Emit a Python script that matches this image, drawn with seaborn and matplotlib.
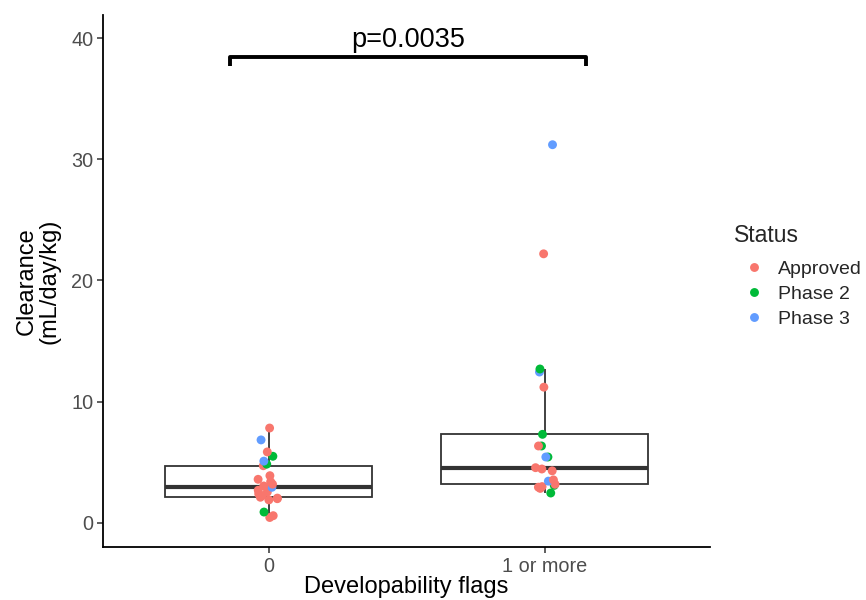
import numpy as np
import pandas as pd
import matplotlib
matplotlib.use("Agg")
import matplotlib.pyplot as plt
import seaborn as sns

# ---- data ----
categories = ["0", "1 or more"]
status_levels = ["Approved", "Phase 2", "Phase 3"]
palette = ["#F8766D", "#00BA38", "#619CFF"]

flag0_clearance = [0.45, 0.6, 0.9, 1.9, 2.0, 2.05, 2.12, 2.25, 2.4, 2.55, 2.7, 2.85,
                   2.94, 3.05, 3.2, 3.4, 3.6, 3.9, 4.72, 4.85, 5.1, 5.5, 5.86, 6.85, 7.83]
flag0_status = ["Approved", "Approved", "Phase 2", "Approved", "Approved", "Approved",
                "Approved", "Approved", "Approved", "Approved", "Approved", "Approved",
                "Phase 3", "Approved", "Approved", "Approved", "Approved", "Approved",
                "Approved", "Phase 2", "Phase 3", "Phase 2", "Approved", "Phase 3", "Approved"]

flag1_clearance = [2.47, 2.85, 2.95, 3.0, 3.1, 3.19, 3.45, 3.55, 4.3, 4.45, 4.56,
                   5.44, 5.44, 6.35, 6.35, 7.31, 11.2, 12.45, 12.7, 22.2, 31.2]
flag1_status = ["Phase 2", "Approved", "Approved", "Approved", "Phase 2", "Approved",
                "Phase 3", "Approved", "Approved", "Approved", "Approved",
                "Phase 2", "Phase 3", "Phase 2", "Approved", "Phase 2", "Approved",
                "Phase 3", "Phase 2", "Approved", "Phase 3"]

p_label = "p=0.0035"
bracket_y = 38.4
bracket_drop = 0.7

df = pd.DataFrame({
    "flags": [categories[0]] * len(flag0_clearance) + [categories[1]] * len(flag1_clearance),
    "clearance": flag0_clearance + flag1_clearance,
    "Status": flag0_status + flag1_status,
})

# ---- figure ----
sns.set_theme(style="white")
plt.rcParams["font.family"] = ["Liberation Sans", "DejaVu Sans"]

fig = plt.figure(figsize=(8.66, 6.0), dpi=100)
ax = fig.add_axes([0.119, 0.088, 0.701, 0.887])

sns.boxplot(data=df, x="flags", y="clearance", order=categories, ax=ax,
            color="white", linecolor="#333333", linewidth=1.3, width=0.75,
            showfliers=False, showcaps=False,
            medianprops={"linewidth": 3, "color": "#333333"})

np.random.seed(3)
sns.stripplot(data=df, x="flags", y="clearance", order=categories, hue="Status",
              hue_order=status_levels, palette=palette, jitter=0.04, size=6.4,
              linewidth=0, ax=ax, zorder=5)

ax.set_xlim(-0.6, 1.6)
ax.set_ylim(-2.0, 41.9)
ax.set_yticks([0, 10, 20, 30, 40])

for s in ["top", "right"]:
    ax.spines[s].set_visible(False)
for s in ["left", "bottom"]:
    ax.spines[s].set_color("black")
    ax.spines[s].set_linewidth(1.3)

ax.tick_params(axis="both", which="both", direction="out", length=4, width=1.1,
               color="#333333", labelcolor="#4D4D4D", labelsize=14.3,
               left=True, bottom=True, pad=3)

ax.set_xlabel("Developability flags", fontsize=17, color="black", labelpad=0)
ax.set_ylabel("Clearance\n(mL/day/kg)", fontsize=17, color="black", labelpad=8,
              linespacing=1.0)

# significance bracket
x_left, x_right = -0.14, 1.15
ax.plot([x_left, x_left, x_right, x_right],
        [bracket_y - bracket_drop, bracket_y, bracket_y, bracket_y - bracket_drop],
        color="black", linewidth=2.8, solid_capstyle="butt", clip_on=False)
ax.text((x_left + x_right) / 2, bracket_y + 0.4, p_label, ha="center", va="bottom",
        fontsize=19.5, color="black")

# legend
handles, labels = ax.get_legend_handles_labels()
ax.legend(handles=handles, labels=labels, title="Status", frameon=False,
          loc="upper left", bbox_to_anchor=(0.839, 0.64), bbox_transform=fig.transFigure,
          fontsize=14.0, title_fontsize=16.5, handletextpad=0.25, labelspacing=0.38,
          markerscale=1.0, alignment="left", borderaxespad=0)
leg = ax.get_legend()
leg._legend_box.sep = 10

fig.savefig("out.png", dpi=100)
